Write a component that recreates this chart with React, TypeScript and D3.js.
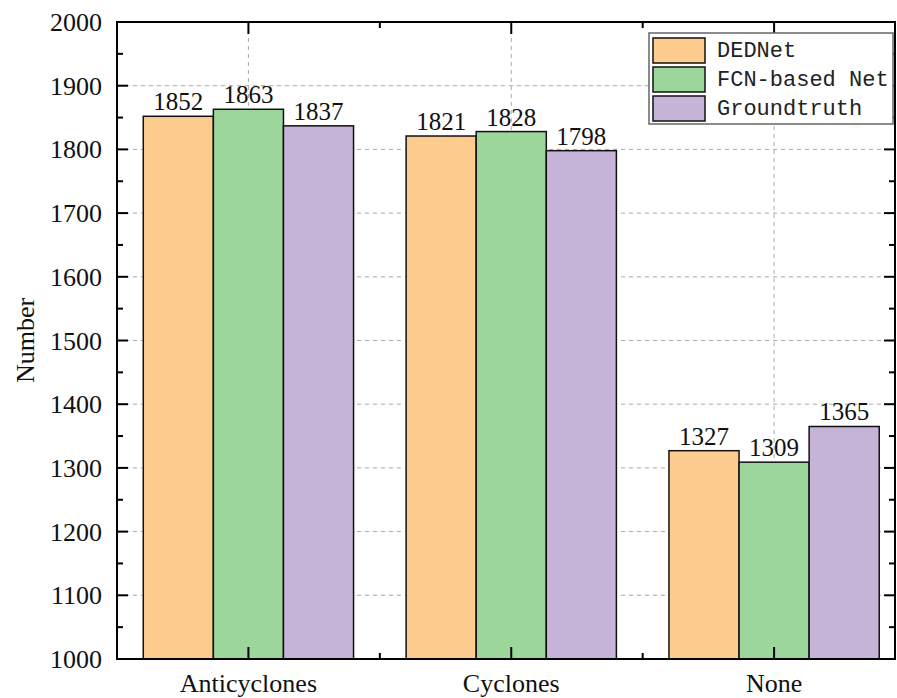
import React, { useEffect, useRef } from "react";
import * as d3 from "d3";

const categories = ["Anticyclones", "Cyclones", "None"];
const seriesNames = ["DEDNet", "FCN-based Net", "Groundtruth"];
const dednet = [1852, 1821, 1327];
const fcnNet = [1863, 1828, 1309];
const groundtruth = [1837, 1798, 1365];
const yTicks = [1000, 1100, 1200, 1300, 1400, 1500, 1600, 1700, 1800, 1900, 2000];
const colors = ["#FECB8F", "#9DD69B", "#C6B3D8"];

const W = 897;
const H = 698;
const left = 117;
const right = 895;
const top = 22;
const bottom = 659;

const App = () => {
  const svgRef = useRef<SVGSVGElement>(null);

  useEffect(() => {
    const svg = d3.select(svgRef.current);
    svg.selectAll("*").remove();

    const values = [dednet, fcnNet, groundtruth];
    const x = d3.scaleLinear().domain([0.5, 3.46]).range([left, right]);
    const inner = d3.scaleBand().domain(seriesNames).range([-0.4, 0.4]);
    const y = d3.scaleLinear().domain([1000, 2000]).range([bottom, top]);
    const serif = "'Liberation Serif', 'Times New Roman', serif";

    // grid
    const grid = svg.append("g").attr("stroke", "#aaa").attr("stroke-width", 1).attr("stroke-dasharray", "4,4");
    yTicks.slice(1, -1).forEach((t) => {
      grid.append("line").attr("x1", left).attr("x2", right).attr("y1", y(t)).attr("y2", y(t));
    });
    categories.forEach((c, i) => {
      grid.append("line").attr("x1", x(i + 1)).attr("x2", x(i + 1)).attr("y1", top).attr("y2", bottom);
    });

    // bars
    const bw = x(inner.bandwidth()) - x(0);
    categories.forEach((c, i) => {
      seriesNames.forEach((s, j) => {
        const v = values[j][i];
        const bx = x(i + 1 + (inner(s) as number));
        svg.append("rect")
          .attr("x", bx).attr("y", y(v))
          .attr("width", bw).attr("height", y(1000) - y(v))
          .attr("fill", colors[j]).attr("stroke", "#111").attr("stroke-width", 1.5);
        svg.append("text")
          .attr("x", bx + bw / 2).attr("y", y(v) - 6)
          .attr("text-anchor", "middle")
          .attr("font-family", serif).attr("font-size", 25)
          .attr("fill", "#111")
          .text(v);
      });
    });

    // frame + ticks
    const ax = svg.append("g").attr("stroke", "#000").attr("stroke-width", 2);
    ax.append("rect").attr("x", left).attr("y", top).attr("width", right - left).attr("height", bottom - top).attr("fill", "none");
    d3.range(1000, 2001, 50).forEach((t) => {
      const len = t % 100 === 0 ? 11 : 6;
      ax.append("line").attr("x1", left).attr("x2", left + len).attr("y1", y(t)).attr("y2", y(t));
      ax.append("line").attr("x1", right).attr("x2", right - len).attr("y1", y(t)).attr("y2", y(t));
    });
    [1, 1.5, 2, 2.5, 3].forEach((t) => {
      const len = Number.isInteger(t) ? 12 : 6;
      ax.append("line").attr("x1", x(t)).attr("x2", x(t)).attr("y1", bottom).attr("y2", bottom - len);
      ax.append("line").attr("x1", x(t)).attr("x2", x(t)).attr("y1", top).attr("y2", top + len);
    });

    // tick labels
    yTicks.forEach((t) => {
      svg.append("text")
        .attr("x", 102).attr("y", y(t) + 9)
        .attr("text-anchor", "end")
        .attr("font-family", serif).attr("font-size", 26)
        .attr("fill", "#111")
        .text(t);
    });
    categories.forEach((c, i) => {
      svg.append("text")
        .attr("x", x(i + 1)).attr("y", 692)
        .attr("text-anchor", "middle")
        .attr("font-family", serif).attr("font-size", 26)
        .attr("fill", "#111")
        .text(c);
    });
    svg.append("text")
      .attr("transform", `translate(34,${(top + bottom) / 2}) rotate(-90)`)
      .attr("text-anchor", "middle")
      .attr("font-family", serif).attr("font-size", 26)
      .attr("fill", "#111")
      .text("Number");

    // legend
    const lg = svg.append("g");
    lg.append("rect").attr("x", 649).attr("y", 33).attr("width", 244).attr("height", 91)
      .attr("fill", "#fff").attr("stroke", "#666").attr("stroke-width", 1.5);
    seriesNames.forEach((s, j) => {
      const cy = 50 + j * 29;
      lg.append("rect").attr("x", 653).attr("y", cy - 12).attr("width", 52).attr("height", 25)
        .attr("fill", colors[j]).attr("stroke", "#111").attr("stroke-width", 1.5);
      lg.append("text").attr("x", 717).attr("y", cy + 7)
        .attr("font-family", "'Liberation Mono', 'DejaVu Sans Mono', monospace").attr("font-size", 22)
        .attr("fill", "#222")
        .text(s);
    });
  }, []);

  return (
    <svg ref={svgRef} width={W} height={H} style={{ position: "absolute", left: 0, top: 0, background: "#fff" }} />
  );
};

export default App;
